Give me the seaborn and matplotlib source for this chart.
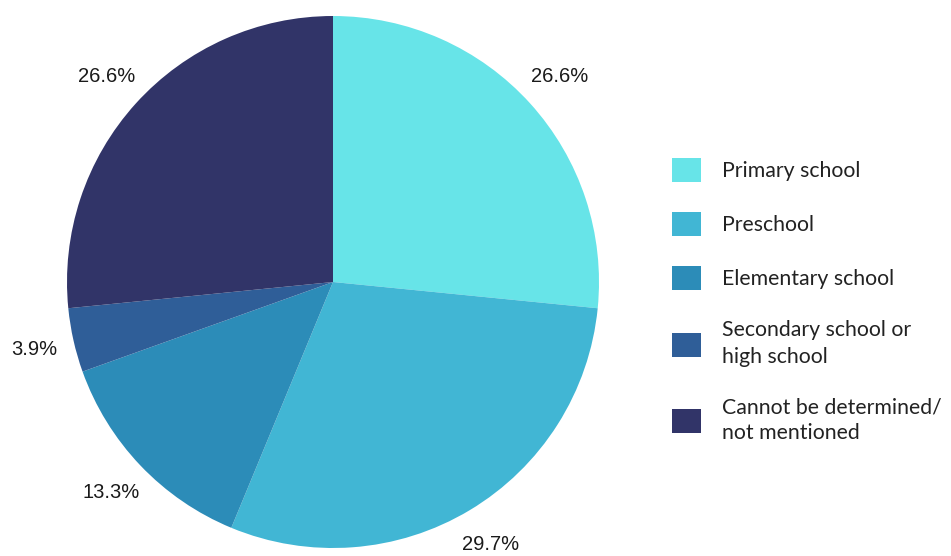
import matplotlib.pyplot as plt
import seaborn as sns

categories = [
    "Primary school",
    "Preschool",
    "Elementary school",
    "Secondary school or\nhigh school",
    "Cannot be determined/\nnot mentioned",
]
shares = [26.6, 29.7, 13.3, 3.9, 26.6]
colors = ["#67e4e8", "#41b6d4", "#2c8cb8", "#2f5e98", "#313468"]


def main():
    sns.set_theme(style="white")
    plt.rcParams["font.family"] = ["Liberation Sans", "DejaVu Sans"]

    fig = plt.figure(figsize=(9.51, 5.56), dpi=100, facecolor="white")
    ax = fig.add_axes([67 / 951, 8 / 556, 532 / 951, 532 / 556])

    wedges, _, autotexts = ax.pie(
        shares,
        colors=colors,
        startangle=90,
        counterclock=False,
        autopct=lambda p: "{:.1f}%".format(p),
        pctdistance=1.15,
        radius=1.0,
        wedgeprops=dict(linewidth=0),
        textprops=dict(fontsize=14.5, color="#1a1a1a"),
    )
    ax.set_xlim(-1, 1)
    ax.set_ylim(-1, 1)
    ax.set_aspect("equal")
    ax.axis("off")

    leg = fig.legend(
        wedges,
        categories,
        loc="upper left",
        bbox_to_anchor=(672 / 951, 1 - 158 / 556),
        frameon=False,
        borderpad=0,
        borderaxespad=0,
        handlelength=1.36,
        handleheight=1.36,
        handletextpad=1.0,
        labelspacing=1.42,
        prop=dict(family=["Lato", "DejaVu Sans"], size=15.3),
    )
    for t in leg.get_texts():
        t.set_color("#222222")
        t.set_linespacing(1.4)

    fig.savefig("out.png", dpi=100, facecolor="white")


if __name__ == "__main__":
    main()
